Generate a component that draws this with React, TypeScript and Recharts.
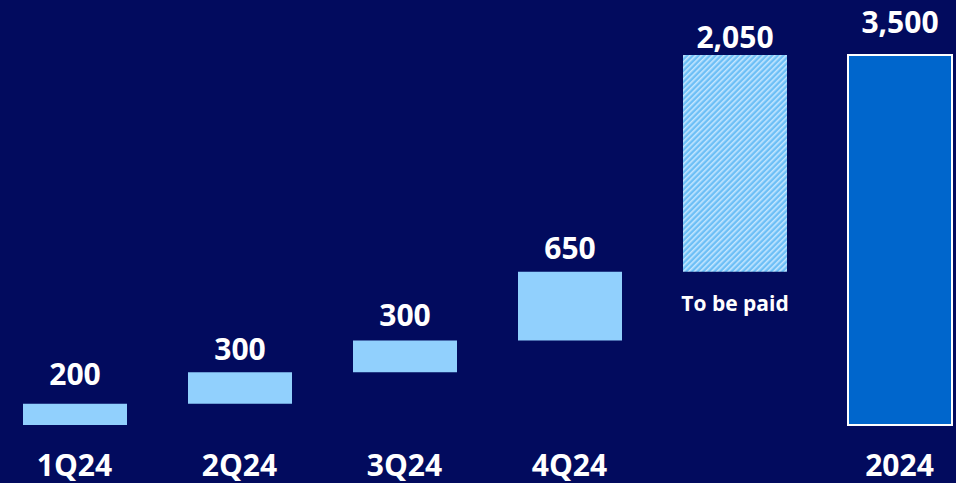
import React from 'react';
import { BarChart, Bar, XAxis, YAxis, Cell, LabelList } from 'recharts';

const categories = ['1Q24', '2Q24', '3Q24', '4Q24', '', '2024'];
const values = [200, 300, 300, 650, 2050, 3500];
const valueLabels = ['200', '300', '300', '650', '2,050', '3,500'];
const kinds = ['step', 'step', 'step', 'step', 'pending', 'total'];
const notes = ['', '', '', '', 'To be paid', ''];

const BG = '#020B5E';
const LIGHT = '#91D0FD';
const TOTAL = '#0066CC';
const FONT = '"Open Sans", sans-serif';

let running = 0;
const data = categories.map((c, i) => {
  let range: [number, number];
  if (kinds[i] === 'total') {
    range = [0, values[i]];
  } else {
    range = [running, running + values[i]];
    running += values[i];
  }
  return { name: c, range, label: valueLabels[i], note: notes[i], kind: kinds[i] };
});

const labelGaps = [19, 12, 14, 13, 7, 22];

const ValueLabel = (props: any) => {
  const { x, y, width, height, value, index } = props;
  const top = Math.min(y, y + height);
  return (
    <text
      x={x + width / 2}
      y={top - labelGaps[index]}
      textAnchor="middle"
      fill="#FFFFFF"
      fontFamily={FONT}
      fontWeight={700}
      fontSize={30}
    >
      {value}
    </text>
  );
};

const NoteLabel = (props: any) => {
  const { x, y, width, height, value } = props;
  if (!value) return null;
  const bottom = Math.max(y, y + height);
  return (
    <text
      x={x + width / 2}
      y={bottom + 39}
      textAnchor="middle"
      fill="#FFFFFF"
      fontFamily={FONT}
      fontWeight={700}
      fontSize={21}
    >
      {value}
    </text>
  );
};

const Tick = (props: any) => {
  const { x, y, payload } = props;
  return (
    <text
      x={x}
      y={y + 51}
      textAnchor="middle"
      fill="#FFFFFF"
      fontFamily={FONT}
      fontWeight={700}
      fontSize={30}
    >
      {payload.value}
    </text>
  );
};

export default function App() {
  return (
    <div
      style={{
        position: 'fixed',
        left: 0,
        top: 0,
        width: 956,
        height: 483,
        overflow: 'hidden',
        background: BG,
      }}
    >
      <div style={{ position: 'absolute', left: -8.5, top: 0 }}>
        <BarChart
          width={990}
          height={483}
          data={data}
          margin={{ top: 55, right: 0, bottom: 0, left: 0 }}
          barSize={104}
        >
          <defs>
            <pattern
              id="hatch"
              patternUnits="userSpaceOnUse"
              width={4}
              height={4}
              patternTransform="rotate(45)"
            >
              <rect x={0} y={0} width={4} height={4} fill="#6DBFF6" />
              <rect x={0} y={0} width={1.6} height={4} fill="#C4E6FF" />
            </pattern>
          </defs>
          <XAxis
            dataKey="name"
            axisLine={false}
            tickLine={false}
            tickSize={0}
            tickMargin={0}
            height={58}
            interval={0}
            tick={<Tick />}
          />
          <YAxis hide domain={[0, 3500]} />
          <Bar dataKey="range" isAnimationActive={false}>
            {data.map((d, i) => (
              <Cell
                key={i}
                fill={d.kind === 'total' ? TOTAL : d.kind === 'pending' ? 'url(#hatch)' : LIGHT}
                stroke={d.kind === 'total' ? '#FFFFFF' : 'none'}
                strokeWidth={d.kind === 'total' ? 2 : 0}
              />
            ))}
            <LabelList dataKey="label" content={<ValueLabel />} />
            <LabelList dataKey="note" content={<NoteLabel />} />
          </Bar>
        </BarChart>
      </div>
    </div>
  );
}
